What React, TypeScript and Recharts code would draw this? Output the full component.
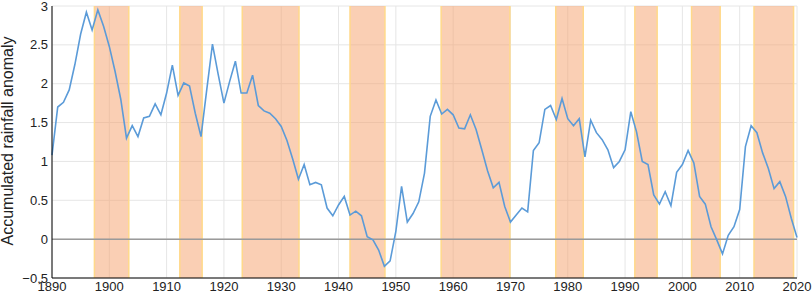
import React from "react";
import {
  LineChart,
  Line,
  XAxis,
  YAxis,
  CartesianGrid,
  ReferenceArea,
  ReferenceLine,
} from "recharts";

// annual accumulated rainfall anomaly, 1890..2020
const startYear = 1890;
const anomaly = [
  1.08, 1.7, 1.76, 1.92, 2.25, 2.64, 2.92, 2.69, 2.95, 2.74, // 1890s
  2.48, 2.16, 1.8, 1.3, 1.46, 1.32, 1.56, 1.58, 1.74, 1.6, // 1900s
  1.88, 2.24, 1.85, 2.01, 1.97, 1.62, 1.32, 1.92, 2.51, 2.12, // 1910s
  1.75, 2.03, 2.29, 1.88, 1.88, 2.11, 1.72, 1.65, 1.62, 1.55, // 1920s
  1.45, 1.27, 1.03, 0.77, 0.96, 0.7, 0.73, 0.7, 0.4, 0.3, // 1930s
  0.44, 0.55, 0.31, 0.36, 0.3, 0.03, -0.01, -0.14, -0.35, -0.28, // 1940s
  0.1, 0.68, 0.22, 0.33, 0.48, 0.85, 1.58, 1.79, 1.61, 1.67, // 1950s
  1.6, 1.43, 1.42, 1.6, 1.41, 1.15, 0.88, 0.66, 0.73, 0.42, // 1960s
  0.22, 0.31, 0.4, 0.35, 1.14, 1.24, 1.67, 1.72, 1.54, 1.81, // 1970s
  1.55, 1.46, 1.55, 1.06, 1.53, 1.37, 1.28, 1.15, 0.92, 1.0, // 1980s
  1.15, 1.64, 1.38, 1.0, 0.96, 0.57, 0.45, 0.61, 0.43, 0.86, // 1990s
  0.96, 1.14, 0.98, 0.55, 0.45, 0.16, -0.01, -0.19, 0.05, 0.16, // 2000s
  0.38, 1.19, 1.46, 1.37, 1.11, 0.91, 0.65, 0.74, 0.55, 0.27, // 2010s
  0.02, // 2020
];

// shaded dry periods (start, end)
const bandStarts = [1897.4, 1912.3, 1923.2, 1942.0, 1957.9, 1977.9, 1991.7, 2001.6, 2012.5];
const bandEnds = [1903.4, 1916.2, 1933.1, 1948.1, 1969.9, 1982.7, 1995.6, 2006.6, 2019.4];

const xTicks = [1890, 1900, 1910, 1920, 1930, 1940, 1950, 1960, 1970, 1980, 1990, 2000, 2010, 2020];
const yTicks = [-0.5, 0, 0.5, 1, 1.5, 2, 2.5, 3];

const data = anomaly.map((v, i) => ({ year: startYear + i, value: v }));

const FONT = '"Liberation Sans", Arial, Helvetica, sans-serif';

function YTitle() {
  return (
    <text
      x={13}
      y={141}
      transform="rotate(-90 13 141)"
      textAnchor="middle"
      fontFamily={FONT}
      fontSize={16}
      fill="#222"
    >
      Accumulated rainfall anomaly
    </text>
  );
}

const fmtY = (v: number) => (v < 0 ? "\u2212" + Math.abs(v) : String(v));

export default function App() {
  return (
    <div
      style={{
        position: "absolute",
        left: 0,
        top: 0,
        width: 812,
        height: 294,
        background: "#fff",
      }}
    >
      <LineChart
        width={812}
        height={294}
        data={data}
        margin={{ top: 6, right: 15, bottom: 0, left: 10 }}
      >
        <CartesianGrid stroke="#e6e6e6" strokeWidth={1} />
        {bandStarts.map((s, i) => (
          <ReferenceArea
            key={"band" + i}
            x1={s}
            x2={bandEnds[i]}
            fill="#f5a06a"
            fillOpacity={0.5}
            stroke="none"
          />
        ))}
        {bandStarts.map((s, i) => (
          <ReferenceLine key={"bs" + i} x={s} stroke="#ffd98a" strokeWidth={1.5} />
        ))}
        {bandEnds.map((e, i) => (
          <ReferenceLine key={"be" + i} x={e} stroke="#ffd98a" strokeWidth={1.5} />
        ))}
        <ReferenceLine y={0} stroke="#9a9a9a" strokeWidth={1.5} />
        <XAxis
          dataKey="year"
          type="number"
          domain={[1890, 2020]}
          ticks={xTicks}
          height={16}
          tickLine={false}
          tickSize={2}
          tickMargin={2}
          axisLine={{ stroke: "#000", strokeWidth: 1 }}
          tick={{ fontSize: 13, fill: "#222", fontFamily: FONT }}
          interval={0}
        />
        <YAxis
          type="number"
          domain={[-0.5, 3]}
          ticks={yTicks}
          width={42}
          tickLine={false}
          tickSize={2}
          tickMargin={2}
          axisLine={{ stroke: "#000", strokeWidth: 1 }}
          tick={{ fontSize: 13, fill: "#222", fontFamily: FONT }}
          tickFormatter={fmtY}
          interval={0}
          label={<YTitle />}
        />
        <Line
          type="linear"
          dataKey="value"
          stroke="#5b9bd8"
          strokeWidth={1.6}
          dot={false}
          isAnimationActive={false}
        />
      </LineChart>
    </div>
  );
}
